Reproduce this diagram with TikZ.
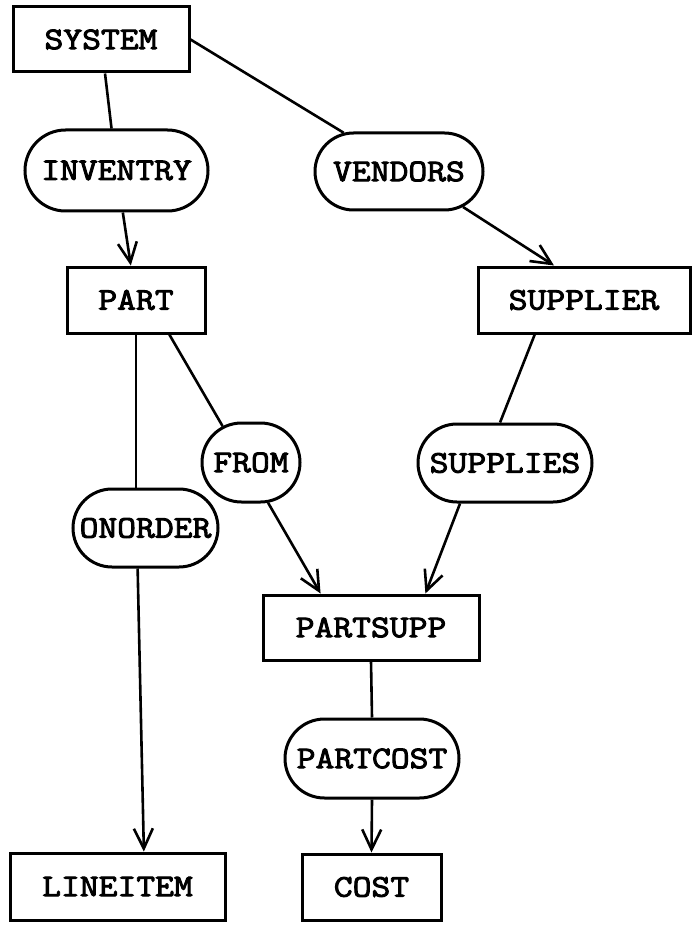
\documentclass[tikz,border=0pt]{standalone}
\usepackage{fontspec}
\setmonofont[FakeStretch=1.16,FakeBold=3]{Latin Modern Mono}
\usetikzlibrary{arrows.meta,shapes.misc}
% label text that may overlap the rounded ends of a set node
\newcommand\setlabel[1]{\makebox[0pt]{#1}}
\begin{document}
\begin{tikzpicture}[x=1pt,y=-1pt,
  every node/.style={font=\ttfamily\fontsize{31.5}{32}\selectfont, inner sep=0pt},
  record/.style={draw, rectangle, line width=3pt},
  setnode/.style={draw, rounded rectangle, line width=3pt},
  conn/.style={line width=2.6pt},
  arr/.style={conn, -{Straight Barb[length=20pt,width=19pt,line width=2.6pt]}}
]
\useasboundingbox (0,0) rectangle (698,925);

% record types
\node[record, minimum width=176pt, minimum height=65pt] (sys)  at (101,39.5)   {SYSTEM};
\node[record, minimum width=138pt, minimum height=66pt] (part) at (136,300)    {PART};
\node[record, minimum width=212pt, minimum height=66pt] (sup)  at (584,300)    {SUPPLIER};
\node[record, minimum width=216pt, minimum height=65pt] (ps)   at (371,627.5)  {PARTSUPP};
\node[record, minimum width=215pt, minimum height=67pt] (li)   at (117.5,886.5){LINEITEM};
\node[record, minimum width=139pt, minimum height=66pt] (cost) at (371.5,887)  {COST};

% set types
\node[setnode, minimum width=183pt, minimum height=81pt] (inv)  at (116.5,170.5) {\setlabel{INVENTRY}};
\node[setnode, minimum width=168pt, minimum height=77pt] (ven)  at (399,171.5)   {\setlabel{VENDORS}};
\node[setnode, minimum width=98pt,  minimum height=79pt] (from) at (251,462.5)   {\setlabel{FROM}};
\node[setnode, minimum width=174pt, minimum height=78pt] (spl)  at (505,463)     {\setlabel{SUPPLIES}};
\node[setnode, minimum width=145pt, minimum height=78pt] (ono)  at (145.5,528)   {\setlabel{ONORDER}};
\node[setnode, minimum width=174pt, minimum height=79pt] (pc)   at (372,758.5)   {\setlabel{PARTCOST}};

% owner -> set -> member
\draw[conn] (sys) -- (inv);
\draw[arr]  (inv) -- (part);
\draw[conn] (sys.east) -- (ven.145);
\draw[arr]  (ven.-29) -- (sup.131);
\draw[conn] (part.-46) -- (from.128);
\draw[arr]  (from.-67) -- (ps.146);
\draw[conn] (sup.-145) -- (spl.97);
\draw[arr]  (spl.-138) -- (ps.32);
\draw[conn] (part.south) -- (part.south |- ono.north);
\draw[arr]  (ono.-101) -- (li.53);
\draw[conn] (ps.south) -- (pc.north);
\draw[arr]  (pc.south) -- (cost.north);
\end{tikzpicture}
\end{document}
